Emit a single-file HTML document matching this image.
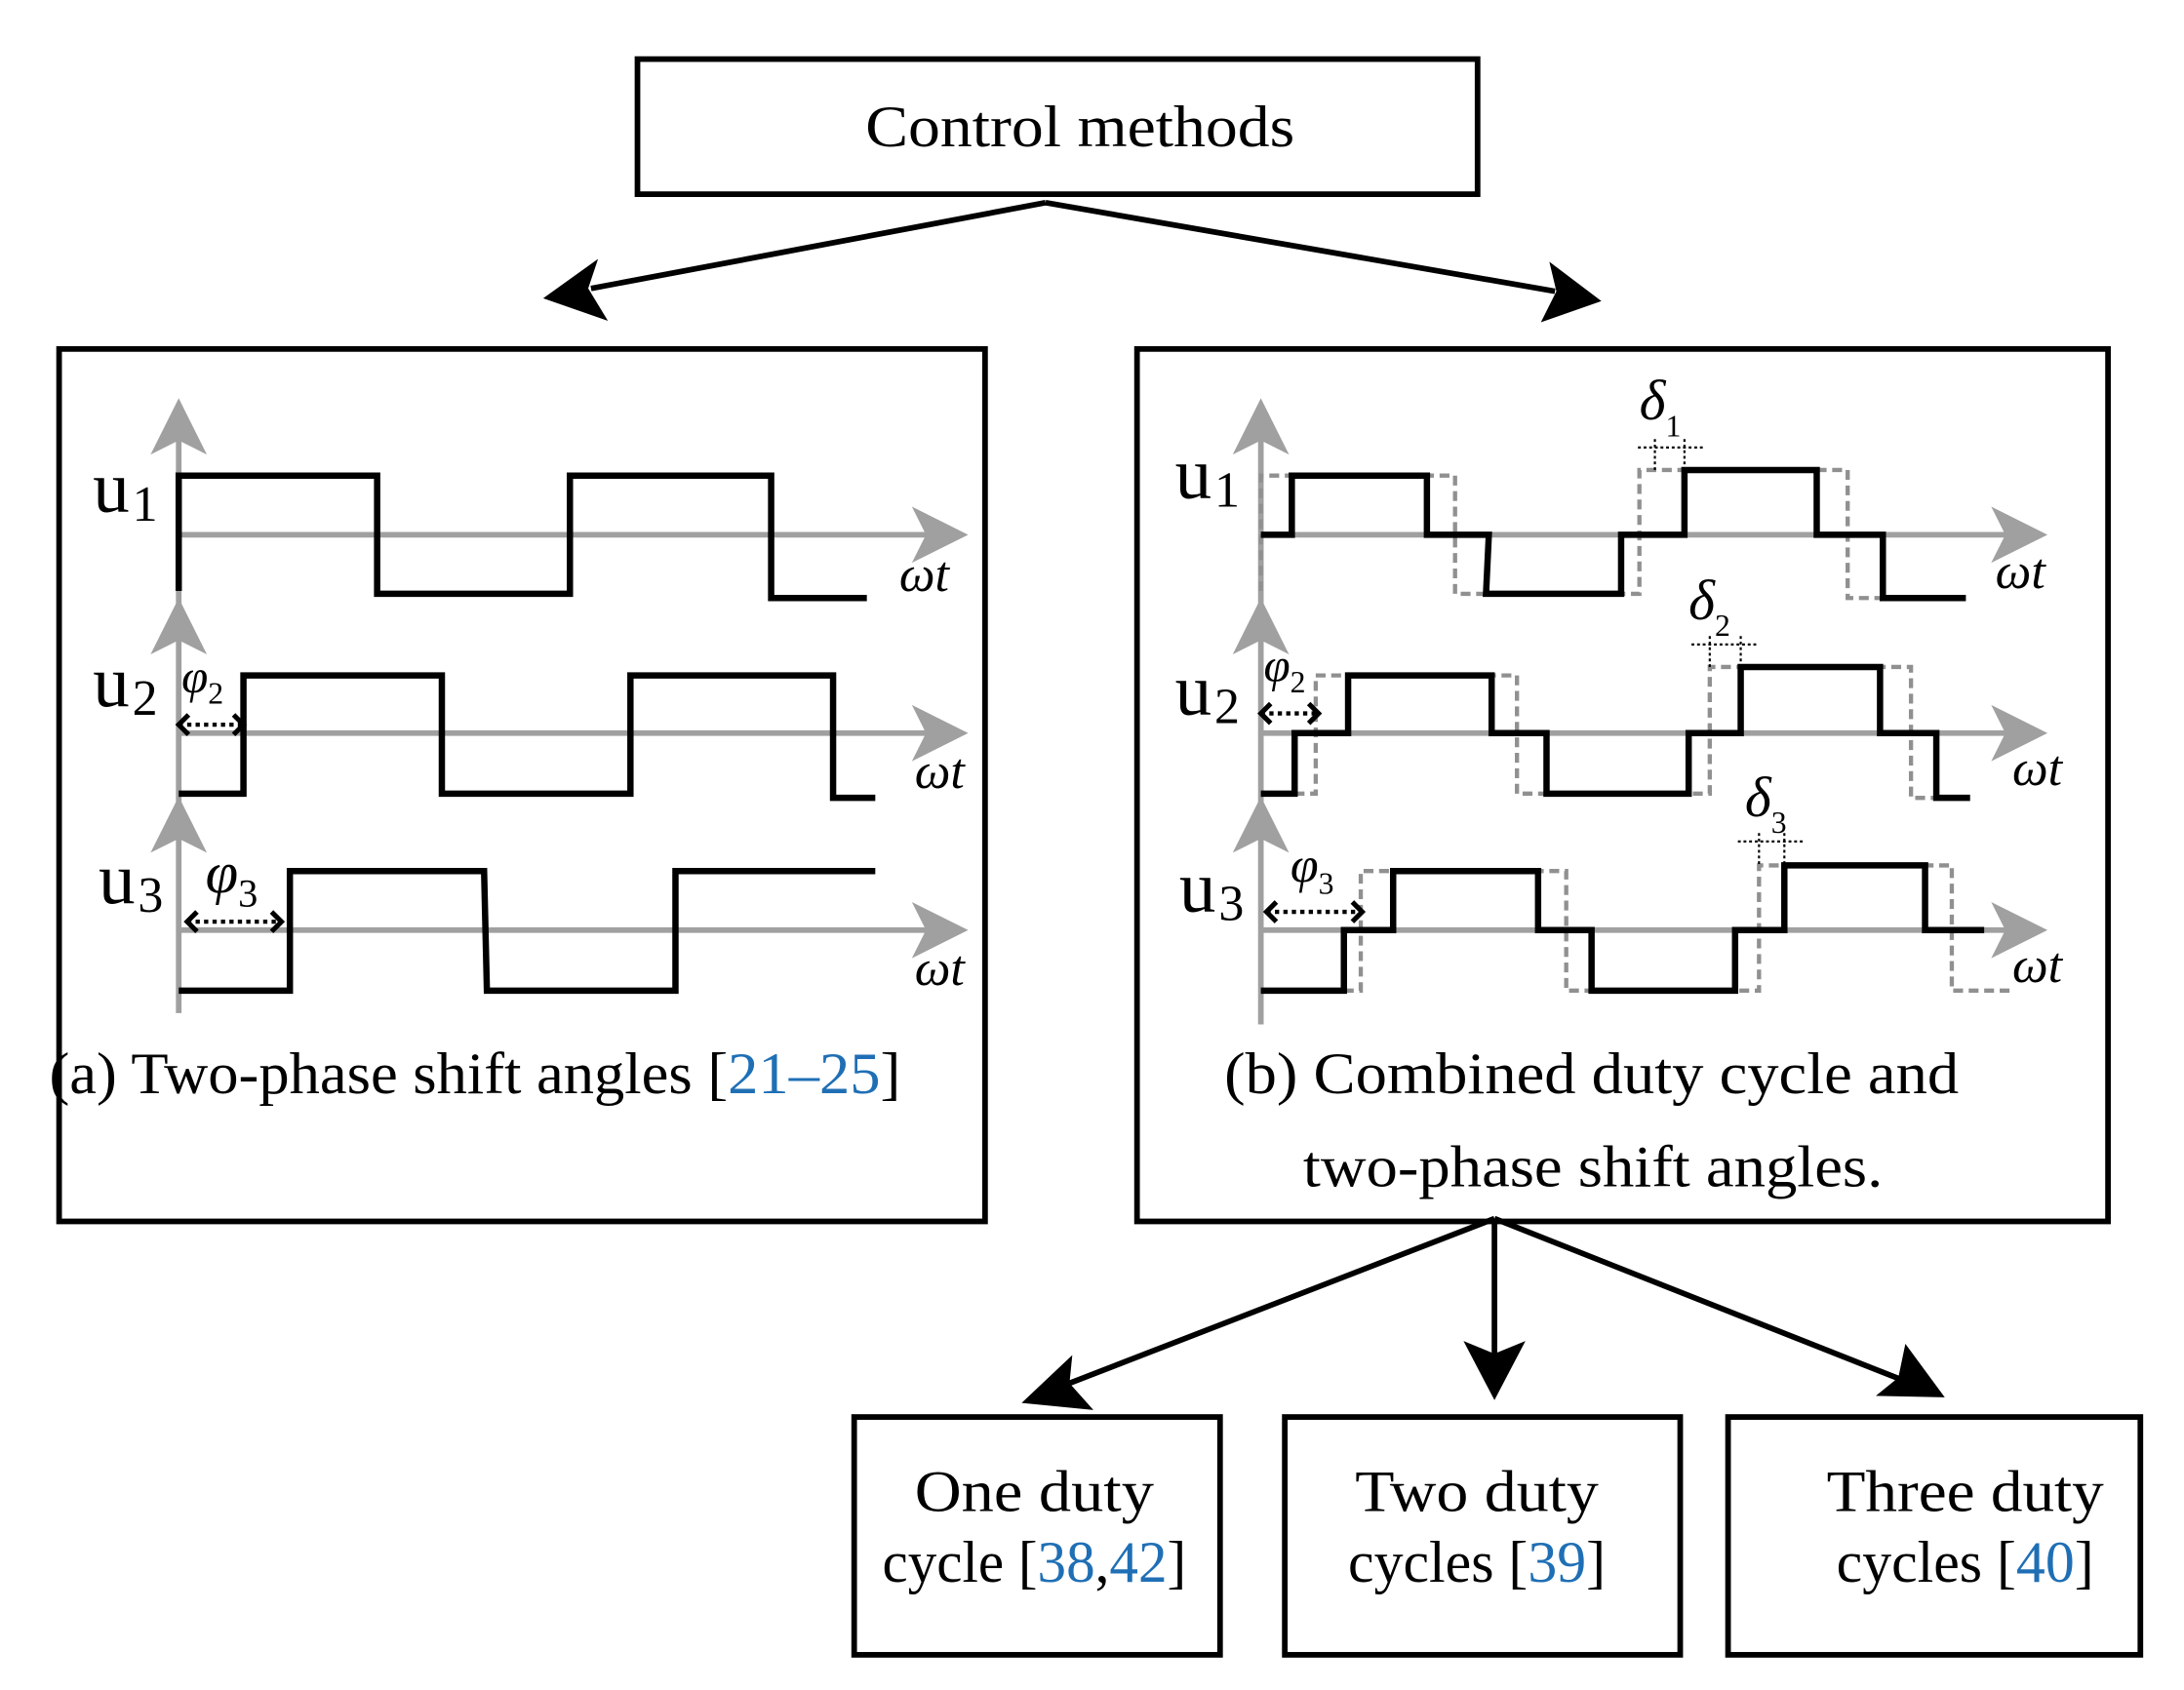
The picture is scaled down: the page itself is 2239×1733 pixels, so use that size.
<!DOCTYPE html>
<html><head><meta charset="utf-8"><style>
html,body{margin:0;padding:0;background:#fff;}
svg{display:block;}
text{font-family:"Liberation Serif",serif;}
</style></head><body>
<svg width="2239" height="1733" viewBox="0 0 1552 1201" preserveAspectRatio="none" xmlns="http://www.w3.org/2000/svg">
<g fill="none" stroke="#000" stroke-width="4">
<rect x="453" y="42" width="597" height="96"/>
<rect x="42" y="248" width="658" height="620"/>
<rect x="808" y="248" width="690" height="620"/>
<rect x="607" y="1007" width="260" height="169"/>
<rect x="913" y="1007" width="281" height="169"/>
<rect x="1228" y="1007" width="293" height="169"/>
<line x1="743" y1="144" x2="420" y2="205"/>
<line x1="743" y1="144" x2="1105" y2="207"/>
<line x1="1062" y1="866" x2="760" y2="983"/>
<line x1="1062" y1="866" x2="1062" y2="965"/>
<line x1="1062" y1="866" x2="1350" y2="980"/>
</g>
<g fill="#000">
<polygon points="386,212 425,184 418,205 432,228"/>
<polygon points="1138,214 1095,229 1106,207 1101,186"/>
<polygon points="726,997 762,963 760,983 777,1002"/>
<polygon points="1062,995 1040,953 1062,962 1084,953"/>
<polygon points="1382,993 1333,992 1349,979 1354,955"/>
</g>
<text x="615" y="104" font-size="42" textLength="305" lengthAdjust="spacingAndGlyphs">Control methods</text>

<g stroke="#a0a0a0" stroke-width="4" fill="none">
<line x1="127" y1="300" x2="127" y2="720"/>
<line x1="127" y1="380" x2="665" y2="380"/>
<line x1="127" y1="521" x2="665" y2="521"/>
<line x1="127" y1="661" x2="665" y2="661"/>
<line x1="896" y1="300" x2="896" y2="728"/>
<line x1="896" y1="380" x2="1432" y2="380"/>
<line x1="896" y1="521" x2="1432" y2="521"/>
<line x1="896" y1="661" x2="1432" y2="661"/>
</g>
<g fill="#a0a0a0">
<polygon points="127,283 147,323 127,313 107,323"/>
<polygon points="127,425 147,465 127,455 107,465"/>
<polygon points="127,566 147,606 127,596 107,606"/>
<polygon points="688,380 648,360 658,380 648,400"/>
<polygon points="688,521 648,501 658,521 648,541"/>
<polygon points="688,661 648,641 658,661 648,681"/>
<polygon points="896,283 916,323 896,313 876,323"/>
<polygon points="896,425 916,465 896,455 876,465"/>
<polygon points="896,566 916,606 896,596 876,606"/>
<polygon points="1455,380 1415,360 1425,380 1415,400"/>
<polygon points="1455,521 1415,501 1425,521 1415,541"/>
<polygon points="1455,661 1415,641 1425,661 1415,681"/>
</g>

<g fill="none" stroke="#000" stroke-width="4.5">
<polyline points="127,420 127,338 268,338 268,422 405,422 405,338 548,338 548,425 616,425"/>
<polyline points="127,564 173,564 173,480 314,480 314,564 448,564 448,480 592,480 592,567 622,567"/>
<polyline points="127,704 206,704 206,619 344,619 346,704 480,704 480,619 622,619"/>
</g>
<g fill="none" stroke="#909090" stroke-width="3" stroke-dasharray="7,4">
<polyline points="896,420 896,338 1034,338 1034,422 1165,422 1165,334 1176,334 1313,334 1313,425 1338,425"/>
<polyline points="920,564 935,564 935,480 1078,480 1078,564 1215,564 1215,474 1358,474 1358,567 1376,567"/>
<polyline points="955,704 967,704 967,619 1113,619 1113,704 1250,704 1250,615 1387,615 1387,704 1430,704"/>
</g>
<g fill="none" stroke="#000" stroke-width="4.5">
<polyline points="896,380 918,380 918,338 1014,338 1014,380 1058,380 1056,422 1152,422 1152,380 1197,380 1197,334 1291,334 1291,380 1338,380 1338,425 1397,425"/>
<polyline points="896,564 920,564 920,521 958,521 958,480 1060,480 1060,521 1099,521 1099,564 1200,564 1200,521 1237,521 1237,474 1336,474 1336,521 1376,521 1376,567 1400,567"/>
<polyline points="896,704 955,704 955,661 990,661 990,619 1093,619 1093,661 1131,661 1131,704 1233,704 1233,661 1268,661 1268,615 1368,615 1368,661 1410,661"/>
</g>

<g fill="none" stroke="#000" stroke-width="3" stroke-dasharray="3,3">
<line x1="127" y1="515" x2="173" y2="515"/>
<line x1="133" y1="655" x2="200" y2="655"/>
<line x1="896" y1="507" x2="937" y2="507"/>
<line x1="900" y1="648" x2="968" y2="648"/>
</g>
<g fill="none" stroke="#000" stroke-width="1.5" stroke-dasharray="2,2">
<line x1="1164" y1="318" x2="1210" y2="318"/><line x1="1176" y1="312" x2="1176" y2="334"/><line x1="1197" y1="312" x2="1197" y2="334"/>
<line x1="1202" y1="458" x2="1250" y2="458"/><line x1="1215" y1="452" x2="1215" y2="474"/><line x1="1237" y1="452" x2="1237" y2="474"/>
<line x1="1235" y1="598" x2="1283" y2="598"/><line x1="1250" y1="592" x2="1250" y2="615"/><line x1="1268" y1="592" x2="1268" y2="615"/>
</g>
<g fill="none" stroke="#000" stroke-width="3.5">
<polyline points="134,508 127,515 134,522"/><polyline points="166,508 173,515 166,522"/>
<polyline points="140,648 133,655 140,662"/><polyline points="193,648 200,655 193,662"/>
<polyline points="903,500 896,507 903,514"/><polyline points="930,500 937,507 930,514"/>
<polyline points="907,641 900,648 907,655"/><polyline points="961,641 968,648 961,655"/>
</g>

<g font-size="52">
<text x="66" y="364" textLength="26" lengthAdjust="spacingAndGlyphs">u</text><text x="94" y="370" font-size="36">1</text>
<text x="66" y="502" textLength="26" lengthAdjust="spacingAndGlyphs">u</text><text x="94" y="508" font-size="36">2</text>
<text x="70" y="642" textLength="26" lengthAdjust="spacingAndGlyphs">u</text><text x="98" y="648" font-size="36">3</text>
<text x="835" y="354" textLength="26" lengthAdjust="spacingAndGlyphs">u</text><text x="863" y="360" font-size="36">1</text>
<text x="835" y="508" textLength="26" lengthAdjust="spacingAndGlyphs">u</text><text x="863" y="514" font-size="36">2</text>
<text x="838" y="648" textLength="26" lengthAdjust="spacingAndGlyphs">u</text><text x="866" y="654" font-size="36">3</text>
</g>
<g font-size="36" font-style="italic">
<text x="639" y="420">ωt</text><text x="650" y="560">ωt</text><text x="650" y="700">ωt</text>
<text x="1418" y="418">ωt</text><text x="1430" y="558">ωt</text><text x="1430" y="698">ωt</text>
<text x="129" y="492" font-size="34">φ<tspan font-size="22" font-style="normal" dy="8">2</tspan></text>
<text x="146" y="634" font-size="42">φ<tspan font-size="28" font-style="normal" dy="10">3</tspan></text>
<text x="898" y="484" font-size="34">φ<tspan font-size="22" font-style="normal" dy="8">2</tspan></text>
<text x="917" y="627" font-size="36">φ<tspan font-size="22" font-style="normal" dy="8">3</tspan></text>
<text x="1165" y="298" font-size="40">δ<tspan font-size="22" font-style="normal" dy="12">1</tspan></text>
<text x="1200" y="440" font-size="40">δ<tspan font-size="22" font-style="normal" dy="12">2</tspan></text>
<text x="1240" y="580" font-size="40">δ<tspan font-size="22" font-style="normal" dy="12">3</tspan></text>
</g>
<g font-size="42">
<text x="35" y="777" textLength="605" lengthAdjust="spacingAndGlyphs">(a) Two-phase shift angles [<tspan fill="#1f6fb5">21–25</tspan>]</text>
<text x="870" y="777" textLength="522" lengthAdjust="spacingAndGlyphs">(b) Combined duty cycle and</text>
<text x="926" y="843" textLength="412" lengthAdjust="spacingAndGlyphs">two-phase shift angles.</text>
<text x="650" y="1074" textLength="170" lengthAdjust="spacingAndGlyphs">One duty</text>
<text x="627" y="1124" textLength="216" lengthAdjust="spacingAndGlyphs">cycle [<tspan fill="#1f6fb5">38</tspan>,<tspan fill="#1f6fb5">42</tspan>]</text>
<text x="963" y="1074" textLength="173" lengthAdjust="spacingAndGlyphs">Two duty</text>
<text x="958" y="1124" textLength="183" lengthAdjust="spacingAndGlyphs">cycles [<tspan fill="#1f6fb5">39</tspan>]</text>
<text x="1298" y="1074" textLength="197" lengthAdjust="spacingAndGlyphs">Three duty</text>
<text x="1305" y="1124" textLength="183" lengthAdjust="spacingAndGlyphs">cycles [<tspan fill="#1f6fb5">40</tspan>]</text>
</g>
</svg>
</body></html>
